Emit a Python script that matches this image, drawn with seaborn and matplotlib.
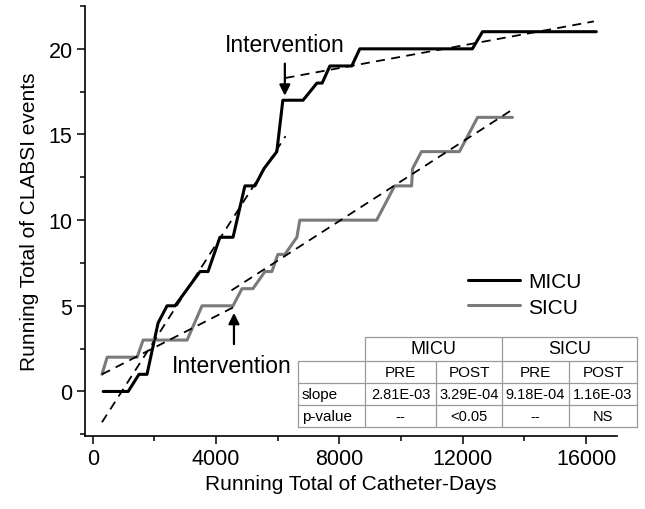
import numpy as np
import pandas as pd
import seaborn as sns
import matplotlib.pyplot as plt
from matplotlib.lines import Line2D
from matplotlib.ticker import MultipleLocator

# values
micu_x = [340, 1150, 1500, 1760, 2120, 2410, 2670, 3480, 3740, 4125, 4550, 4935, 5260,
          5550, 5970, 6165, 6820, 7270, 7440, 7690, 8400, 8660, 12310, 12640, 16330]
micu_y = [0, 0, 1, 1, 4, 5, 5, 7, 7, 9, 9, 12, 12,
          13, 14, 17, 17, 18, 18, 19, 19, 20, 20, 21, 21]

sicu_x = [300, 470, 1440, 1635, 3060, 3545, 4550, 4840, 5195, 5585, 5810, 6005, 6230,
          6620, 6715, 9207, 9790, 10340, 10370, 10660, 11890, 12480, 13610]
sicu_y = [1, 2, 2, 3, 3, 5, 5, 6, 6, 7, 7, 8, 8,
          9, 10, 10, 12, 12, 13, 14, 14, 16, 16]

# regression lines (end points)
micu_pre_x, micu_pre_y = [300, 6250], [-1.8, 14.9]
micu_post_x, micu_post_y = [6250, 16250], [18.3, 21.6]
sicu_pre_x, sicu_pre_y = [300, 4600], [1.0, 4.95]
sicu_post_x, sicu_post_y = [4500, 13650], [5.9, 16.5]

# table contents
units = ["MICU", "SICU"]
phases = ["PRE", "POST", "PRE", "POST"]
row_names = ["slope", "p-value"]
slopes = ["2.81E-03", "3.29E-04", "9.18E-04", "1.16E-03"]
pvalues = ["--", "<0.05", "--", "NS"]

sns.set_theme(style="ticks")
plt.rcParams['font.family'] = ['Liberation Sans', 'DejaVu Sans']
plt.rcParams['text.color'] = 'black'
plt.rcParams['axes.labelcolor'] = 'black'

W, H = 645, 510
fig = plt.figure(figsize=(W / 100, H / 100), dpi=100)
ax = fig.add_axes([85 / W, 1 - 437 / H, (617 - 85) / W, (437 - 7) / H])

micu = pd.DataFrame({"x": micu_x, "y": micu_y})
sicu = pd.DataFrame({"x": sicu_x, "y": sicu_y})
sns.lineplot(data=micu, x="x", y="y", sort=False, estimator=None, color="black", lw=2.2, ax=ax)
sns.lineplot(data=sicu, x="x", y="y", sort=False, estimator=None, color="#7a7a7a", lw=2.2, ax=ax)

for fx_, fy_ in [(micu_pre_x, micu_pre_y), (micu_post_x, micu_post_y),
                 (sicu_pre_x, sicu_pre_y), (sicu_post_x, sicu_post_y)]:
    ax.plot(fx_, fy_, color="black", lw=1.3, ls=(0, (5, 3.5)))

ax.set_xlim(-250, 17000)
ax.set_ylim(-2.6, 22.5)
ax.xaxis.set_major_locator(MultipleLocator(4000))
ax.xaxis.set_minor_locator(MultipleLocator(2000))
ax.yaxis.set_major_locator(MultipleLocator(5))
ax.yaxis.set_minor_locator(MultipleLocator(2.5))
ax.tick_params(which="major", length=6, width=1.1, labelsize=15.5, pad=3, colors="black")
ax.tick_params(which="minor", length=3.5, width=1.1, colors="black")
for s in ["top", "right"]:
    ax.spines[s].set_visible(False)
for s in ["left", "bottom"]:
    ax.spines[s].set_linewidth(1.2)
    ax.spines[s].set_color("black")
ax.set_xlabel("Running Total of Catheter-Days", fontsize=15, labelpad=3)
ax.set_ylabel("Running Total of CLABSI events", fontsize=15, labelpad=7)

# intervention markers
ax.annotate("", xy=(6230, 17.1), xytext=(6230, 19.3),
            arrowprops=dict(arrowstyle="-|>", color="black", lw=1.6, mutation_scale=16))
ax.text(6230, 20.25, "Intervention", fontsize=16.5, ha="center", va="center")
ax.annotate("", xy=(4580, 4.75), xytext=(4580, 2.6),
            arrowprops=dict(arrowstyle="-|>", color="black", lw=1.6, mutation_scale=16))
ax.text(4520, 1.5, "Intervention", fontsize=16.5, ha="center", va="center")

# legend
handles = [Line2D([], [], color="black", lw=2.2), Line2D([], [], color="#7a7a7a", lw=2.2)]
fig.legend(handles, units, loc="center left", bbox_to_anchor=(468 / W, 1 - 295.5 / H),
           frameon=False, fontsize=15, handlelength=2.5, handletextpad=0.4,
           labelspacing=0.3, borderaxespad=0, borderpad=0)

# statistics table, drawn in pixel positions of the reference
def fx(px):
    return px / W

def fy(py):
    return 1 - py / H

cols = [298, 365, 436, 502, 569, 637]
rows = [338, 362, 384, 406, 428]
grid = "#9a9a9a"

def hline(x0, x1, y):
    fig.add_artist(Line2D([fx(x0), fx(x1)], [fy(y), fy(y)], color=grid, lw=0.9))

def vline(x, y0, y1):
    fig.add_artist(Line2D([fx(x), fx(x)], [fy(y0), fy(y1)], color=grid, lw=0.9))

hline(cols[1], cols[5], rows[0])
for r in rows[1:]:
    hline(cols[0], cols[5], r)
vline(cols[0], rows[1], rows[4])
vline(cols[1], rows[0], rows[4])
vline(cols[3], rows[0], rows[4])
vline(cols[5], rows[0], rows[4])
vline(cols[2], rows[1], rows[4])
vline(cols[4], rows[1], rows[4])

for i, u in enumerate(units):
    cx = (cols[1 + 2 * i] + cols[3 + 2 * i]) / 2
    fig.text(fx(cx), fy((rows[0] + rows[1]) / 2), u, fontsize=13, ha="center", va="center")
for j, ph in enumerate(phases):
    cx = (cols[1 + j] + cols[2 + j]) / 2
    fig.text(fx(cx), fy((rows[1] + rows[2]) / 2), ph, fontsize=11, ha="center", va="center")
    fig.text(fx(cx), fy((rows[2] + rows[3]) / 2), slopes[j], fontsize=10.5, ha="center", va="center")
    fig.text(fx(cx), fy((rows[3] + rows[4]) / 2), pvalues[j], fontsize=10.5, ha="center", va="center")
for k, name in enumerate(row_names):
    fig.text(fx(cols[0] + 4), fy((rows[2 + k] + rows[3 + k]) / 2), name, fontsize=11,
             ha="left", va="center")

fig.savefig("out.png", dpi=100)
